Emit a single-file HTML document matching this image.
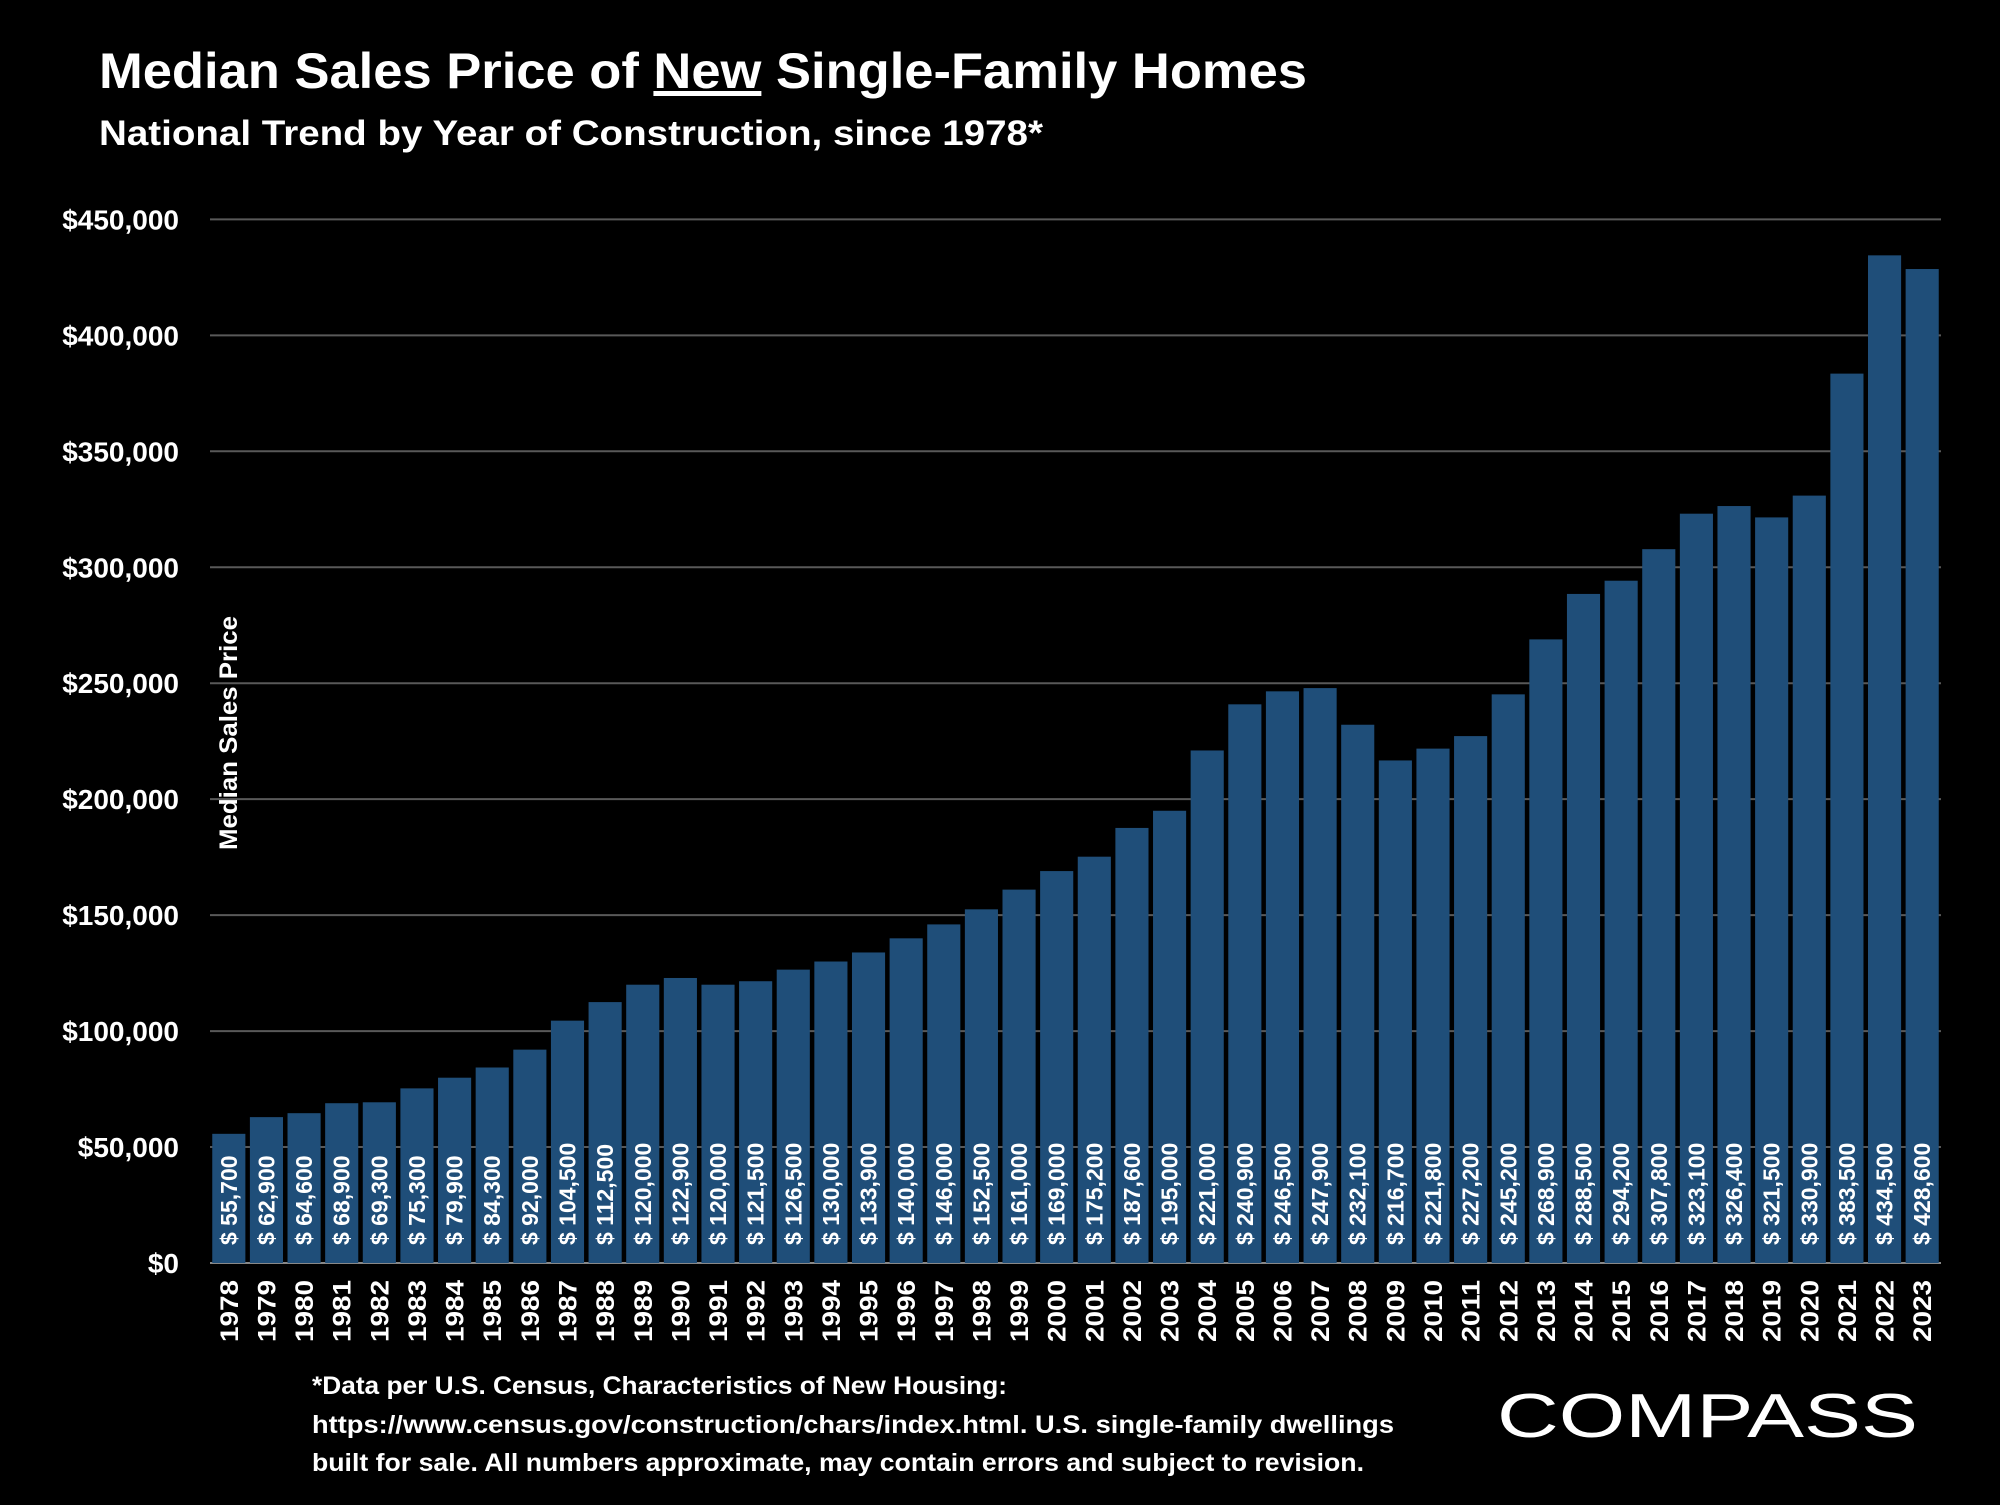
<!DOCTYPE html>
<html><head><meta charset="utf-8"><style>
body{margin:0;background:#000;}
svg text{font-family:"Liberation Sans",sans-serif;font-weight:bold;fill:#fff;}
</style></head><body>
<svg id="chart" width="2000" height="1500" viewBox="0 0 2000 1500">
<rect width="2000" height="1500" fill="#000"/>
<text x="99" y="88" font-size="50" textLength="1208" lengthAdjust="spacingAndGlyphs">Median Sales Price of <tspan text-decoration="underline">New</tspan> Single-Family Homes</text>
<text x="99" y="145" font-size="35" textLength="944" lengthAdjust="spacingAndGlyphs">National Trend by Year of Construction, since 1978*</text>
<g id="grid"></g><g id="bars"></g><g id="labels"></g>
<text transform="translate(237,733) rotate(-90)" text-anchor="middle" font-size="25" textLength="234" lengthAdjust="spacingAndGlyphs">Median Sales Price</text>
<text x="312" y="1394" font-size="25" textLength="695" lengthAdjust="spacingAndGlyphs">*Data per U.S. Census, Characteristics of New Housing:</text>
<text x="312" y="1433" font-size="25" textLength="1082" lengthAdjust="spacingAndGlyphs">https://www.census.gov/construction/chars/index.html. U.S. single-family dwellings</text>
<text x="312" y="1471" font-size="25" textLength="1052" lengthAdjust="spacingAndGlyphs">built for sale. All numbers approximate, may contain errors and subject to revision.</text>
<text x="1497" y="1437" font-size="62" style="font-weight:normal" textLength="421" lengthAdjust="spacingAndGlyphs">COMPASS</text>
</svg>
<script>
const years=[1978,1979,1980,1981,1982,1983,1984,1985,1986,1987,1988,1989,1990,1991,1992,1993,1994,1995,1996,1997,1998,1999,2000,2001,2002,2003,2004,2005,2006,2007,2008,2009,2010,2011,2012,2013,2014,2015,2016,2017,2018,2019,2020,2021,2022,2023];
const prices=[55700,62900,64600,68900,69300,75300,79900,84300,92000,104500,112500,120000,122900,120000,121500,126500,130000,133900,140000,146000,152500,161000,169000,175200,187600,195000,221000,240900,246500,247900,232100,216700,221800,227200,245200,268900,288500,294200,307800,323100,326400,321500,330900,383500,434500,428600];
const yTicks=[0,50000,100000,150000,200000,250000,300000,350000,400000,450000];
const NS="http://www.w3.org/2000/svg";
const L=210,R=1941,Y0=1263,Y1=219.4,MAX=450000;
const y=v=>Y0-(Y0-Y1)*v/MAX;
const slot=(R-L)/years.length;
const x=i=>L+slot*i;
const bw=slot*0.88;
function mk(tag,attrs,parent){const e=document.createElementNS(NS,tag);for(const k in attrs)e.setAttribute(k,attrs[k]);parent.appendChild(e);return e;}
const grid=document.getElementById('grid'),bars=document.getElementById('bars'),labels=document.getElementById('labels');
yTicks.forEach(t=>{
  const ln=mk('line',{x1:L,x2:R,y1:y(t),y2:y(t),stroke:t===0?'#888':'#595959','stroke-width':2},grid);
  
  
  const tx=mk('text',{x:179,y:y(t)+10,'text-anchor':'end','font-size':28},grid);
  tx.textContent='$'+t.toLocaleString('en-US');
  
  
});
prices.forEach((p,i)=>{
  const bx=x(i)+(slot-bw)/2;
  const r=mk('rect',{x:bx,y:y(p),width:bw,height:Y0-y(p),fill:'#1f4e79'},bars);
  
  
  const cx=bx+bw/2;
  const v=mk('text',{transform:`translate(${cx+8},${Y0-18}) rotate(-90)`,'font-size':23},labels);
  v.textContent='$ '+p.toLocaleString('en-US');
  
  
  const yl=mk('text',{transform:`translate(${cx+9},${Y0+17}) rotate(-90)`,'font-size':25,'text-anchor':'end',textLength:62,lengthAdjust:'spacingAndGlyphs'},labels);
  yl.textContent=years[i];
  
  
});
</script>
</body></html>
